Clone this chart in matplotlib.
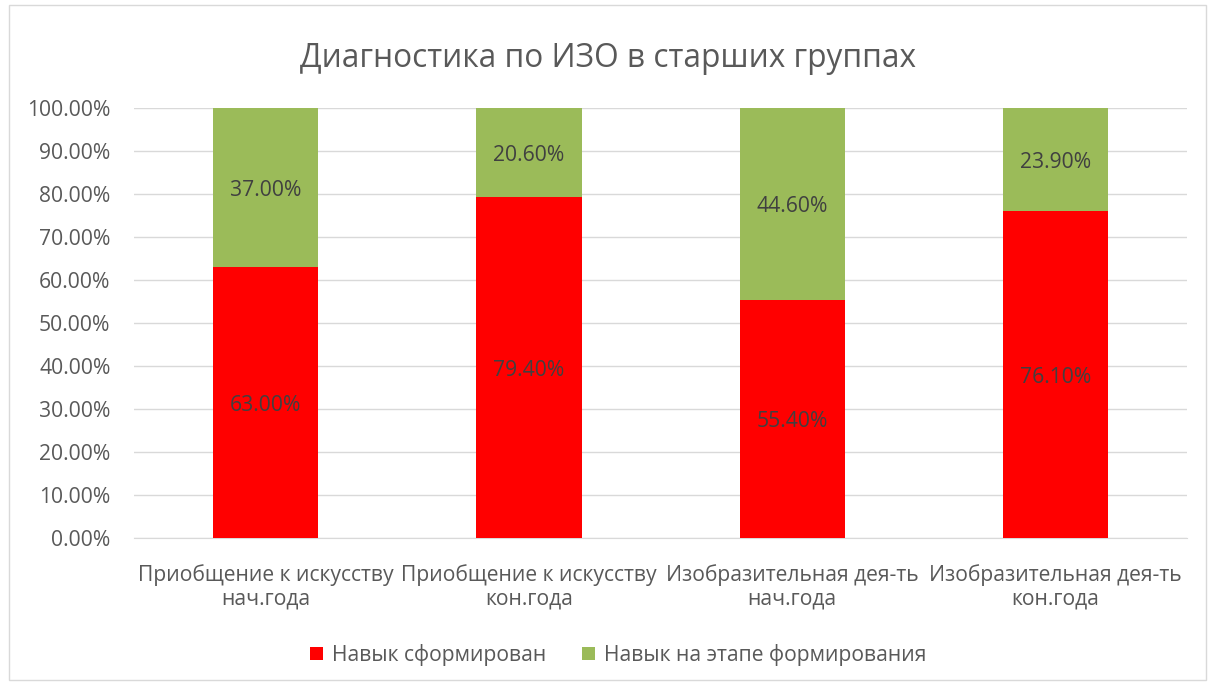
import matplotlib.pyplot as plt
from matplotlib.patches import Rectangle
from matplotlib.ticker import FuncFormatter
from matplotlib.transforms import offset_copy
import numpy as np

categories = ['Приобщение к искусству\nнач.года', 'Приобщение к искусству\nкон.года',
              'Изобразительная дея-ть\nнач.года', 'Изобразительная дея-ть\nкон.года']
formed = [63.0, 79.4, 55.4, 76.1]
forming = [37.0, 20.6, 44.6, 23.9]
series_names = ['Навык сформирован', 'Навык на этапе формирования']

plt.rcParams['font.family'] = ['Open Sans', 'DejaVu Sans']
text_col = '#595959'
fs = 15.2

fig = plt.figure(figsize=(12.15, 6.85), dpi=100)
ax = fig.add_axes([0.1103, 0.2146, 0.8667, 0.6277])

x = np.arange(len(categories))
w = 0.4
b1 = ax.bar(x, formed, w, color='#FF0000', label=series_names[0], zorder=3)
b2 = ax.bar(x, forming, w, bottom=formed, color='#9BBB59', label=series_names[1], zorder=3)

# excel puts the labels a touch below the middle
lab_tr = offset_copy(ax.transData, fig=fig, x=0, y=-3, units='dots')
for i in range(len(categories)):
    ax.text(x[i], formed[i] / 2, '%.2f%%' % formed[i], ha='center', va='center',
            fontsize=fs, color='#404040', zorder=4, transform=lab_tr)
    ax.text(x[i], formed[i] + forming[i] / 2, '%.2f%%' % forming[i], ha='center', va='center',
            fontsize=fs, color='#404040', zorder=4, transform=lab_tr)

ax.set_xlim(-0.5, len(categories) - 0.5)
ax.set_ylim(0, 100)
ax.set_yticks(np.arange(0, 101, 10))
ax.yaxis.set_major_formatter(FuncFormatter(lambda v, p: '%.2f%%' % v))
ax.set_xticks(x)
ax.set_xticklabels(categories, linespacing=1.15)
ax.tick_params(axis='both', length=0, labelsize=fs, colors=text_col)
ax.tick_params(axis='x', pad=19)
ax.tick_params(axis='y', pad=17)
ax.grid(axis='y', color='#D9D9D9', linewidth=1, zorder=0)
for s in ['top', 'left', 'right']:
    ax.spines[s].set_visible(False)
ax.spines['bottom'].set_color('#D9D9D9')

fig.text(0.5, 0.915, 'Диагностика по ИЗО в старших группах', ha='center', va='center',
         fontsize=22.8, color=text_col)

fig.legend(handles=[b1, b2], loc='center', bbox_to_anchor=(0.509, 0.044), ncol=2,
           frameon=False, fontsize=fs, labelcolor=text_col, handlelength=0.6,
           handleheight=0.6, columnspacing=1.7, handletextpad=0.45)

fig.patches.append(Rectangle((0.007, 0.007), 0.986, 0.986, transform=fig.transFigure,
                             fill=False, edgecolor='#D9D9D9', linewidth=1))

fig.savefig('out.png', dpi=100)
